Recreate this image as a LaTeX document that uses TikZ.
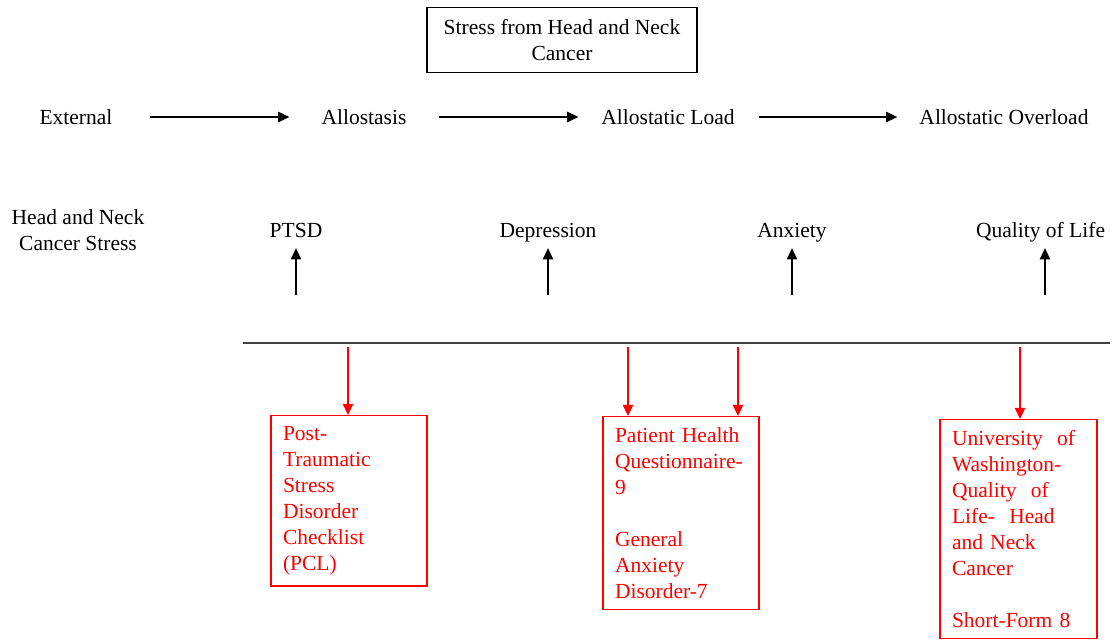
\documentclass[tikz,border=0pt]{standalone}
\usepackage{fontspec}
\setmainfont{Liberation Serif}
\usepackage{tikz}
\usetikzlibrary{arrows.meta, calc, positioning}

\begin{document}
\begin{tikzpicture}[
    lbl/.style={font=\fontsize{15.3}{18.5}\selectfont, align=center},
    stressbox/.style={lbl, draw, line width=0.9pt, minimum width=6.75cm, minimum height=1.625cm},
    toolbox/.style={lbl, draw=red, text=red, line width=1pt, align=left, anchor=north,
        text width=3.3cm, inner xsep=0.3cm, inner ysep=0.27cm},
    blk/.style={line width=0.8pt, -{Triangle[length=2.8mm, width=2.6mm]}},
    redarr/.style={red, line width=0.9pt, -{Triangle[length=2.8mm, width=2.6mm]}}
]
    \useasboundingbox (0, 0) rectangle (27.85, -16.075);

    % Kopf
    \node[stressbox] (stress) at (14.05, -1.0) {Stress from Head and Neck\\Cancer};

    % Kette der Allostase
    \node[lbl] (ext) at (1.9, -2.925) {External};
    \node[lbl] (allo) at (9.1, -2.925) {Allostasis};
    \node[lbl] (load) at (16.7, -2.925) {Allostatic Load};
    \node[lbl] (overload) at (25.1, -2.925) {Allostatic Overload};
    \draw[blk, shorten <=0.82cm, shorten >=0.68cm] (ext) -- (allo);
    \draw[blk, shorten <=0.7cm, shorten >=0.45cm] (allo) -- (load);
    \draw[blk, shorten <=0.48cm, shorten >=0.43cm] (load) -- (overload);

    % Folgen
    \node[lbl] (hnc) at (1.95, -5.75) {Head and Neck\\Cancer Stress};
    \node[lbl, anchor=base] (ptsd) at (7.4, -5.925) {PTSD};
    \node[lbl, anchor=base] (dep) at (13.7, -5.925) {Depression};
    \node[lbl, anchor=base] (anx) at (19.8, -5.925) {Anxiety};
    \node[lbl, anchor=base east] (qol) at (27.75, -5.925) {Quality of Life};

    \coordinate (u1) at (7.4, -7.375);
    \coordinate (u2) at (13.7, -7.375);
    \coordinate (u3) at (19.8, -7.375);
    \coordinate (u4) at (26.125, -7.375);
    \draw[blk, shorten >=0.15cm] (u1) -- (u1 |- ptsd.south);
    \draw[blk, shorten >=0.15cm] (u2) -- (u2 |- ptsd.south);
    \draw[blk, shorten >=0.15cm] (u3) -- (u3 |- ptsd.south);
    \draw[blk, shorten >=0.15cm] (u4) -- (u4 |- ptsd.south);

    % Trennlinie
    \coordinate (lineL) at (6.075, -8.575);
    \coordinate (lineR) at (27.75, -8.575);
    \draw[black!75, line width=0.8pt] (lineL) -- (lineR);

    % Messinstrumente
    \node[toolbox] (pcl) at (8.725, -10.375)
        {Post-\\Traumatic\\Stress\\Disorder\\Checklist\\(PCL)};
    \node[toolbox] (phq) at (17.025, -10.4)
        {Patient Health\\Questionnaire-\\9\\[18.5pt]General\\Anxiety\\Disorder-7};
    \node[toolbox, text width=3.325cm] (uw) at (25.4625, -10.475)
        {University\ \ of\\Washington-\\Quality\ \ of\\Life-\ \ Head\\and Neck\\Cancer\\[18.5pt]Short-Form 8};

    \coordinate (d1) at (8.7, -8.675);
    \coordinate (d2) at (15.7, -8.675);
    \coordinate (d3) at (18.45, -8.675);
    \coordinate (d4) at (25.5, -8.675);
    \draw[redarr] (d1) -- (d1 |- pcl.north);
    \draw[redarr] (d2) -- (d2 |- phq.north);
    \draw[redarr] (d3) -- (d3 |- phq.north);
    \draw[redarr] (d4) -- (d4 |- uw.north);
\end{tikzpicture}
\end{document}
